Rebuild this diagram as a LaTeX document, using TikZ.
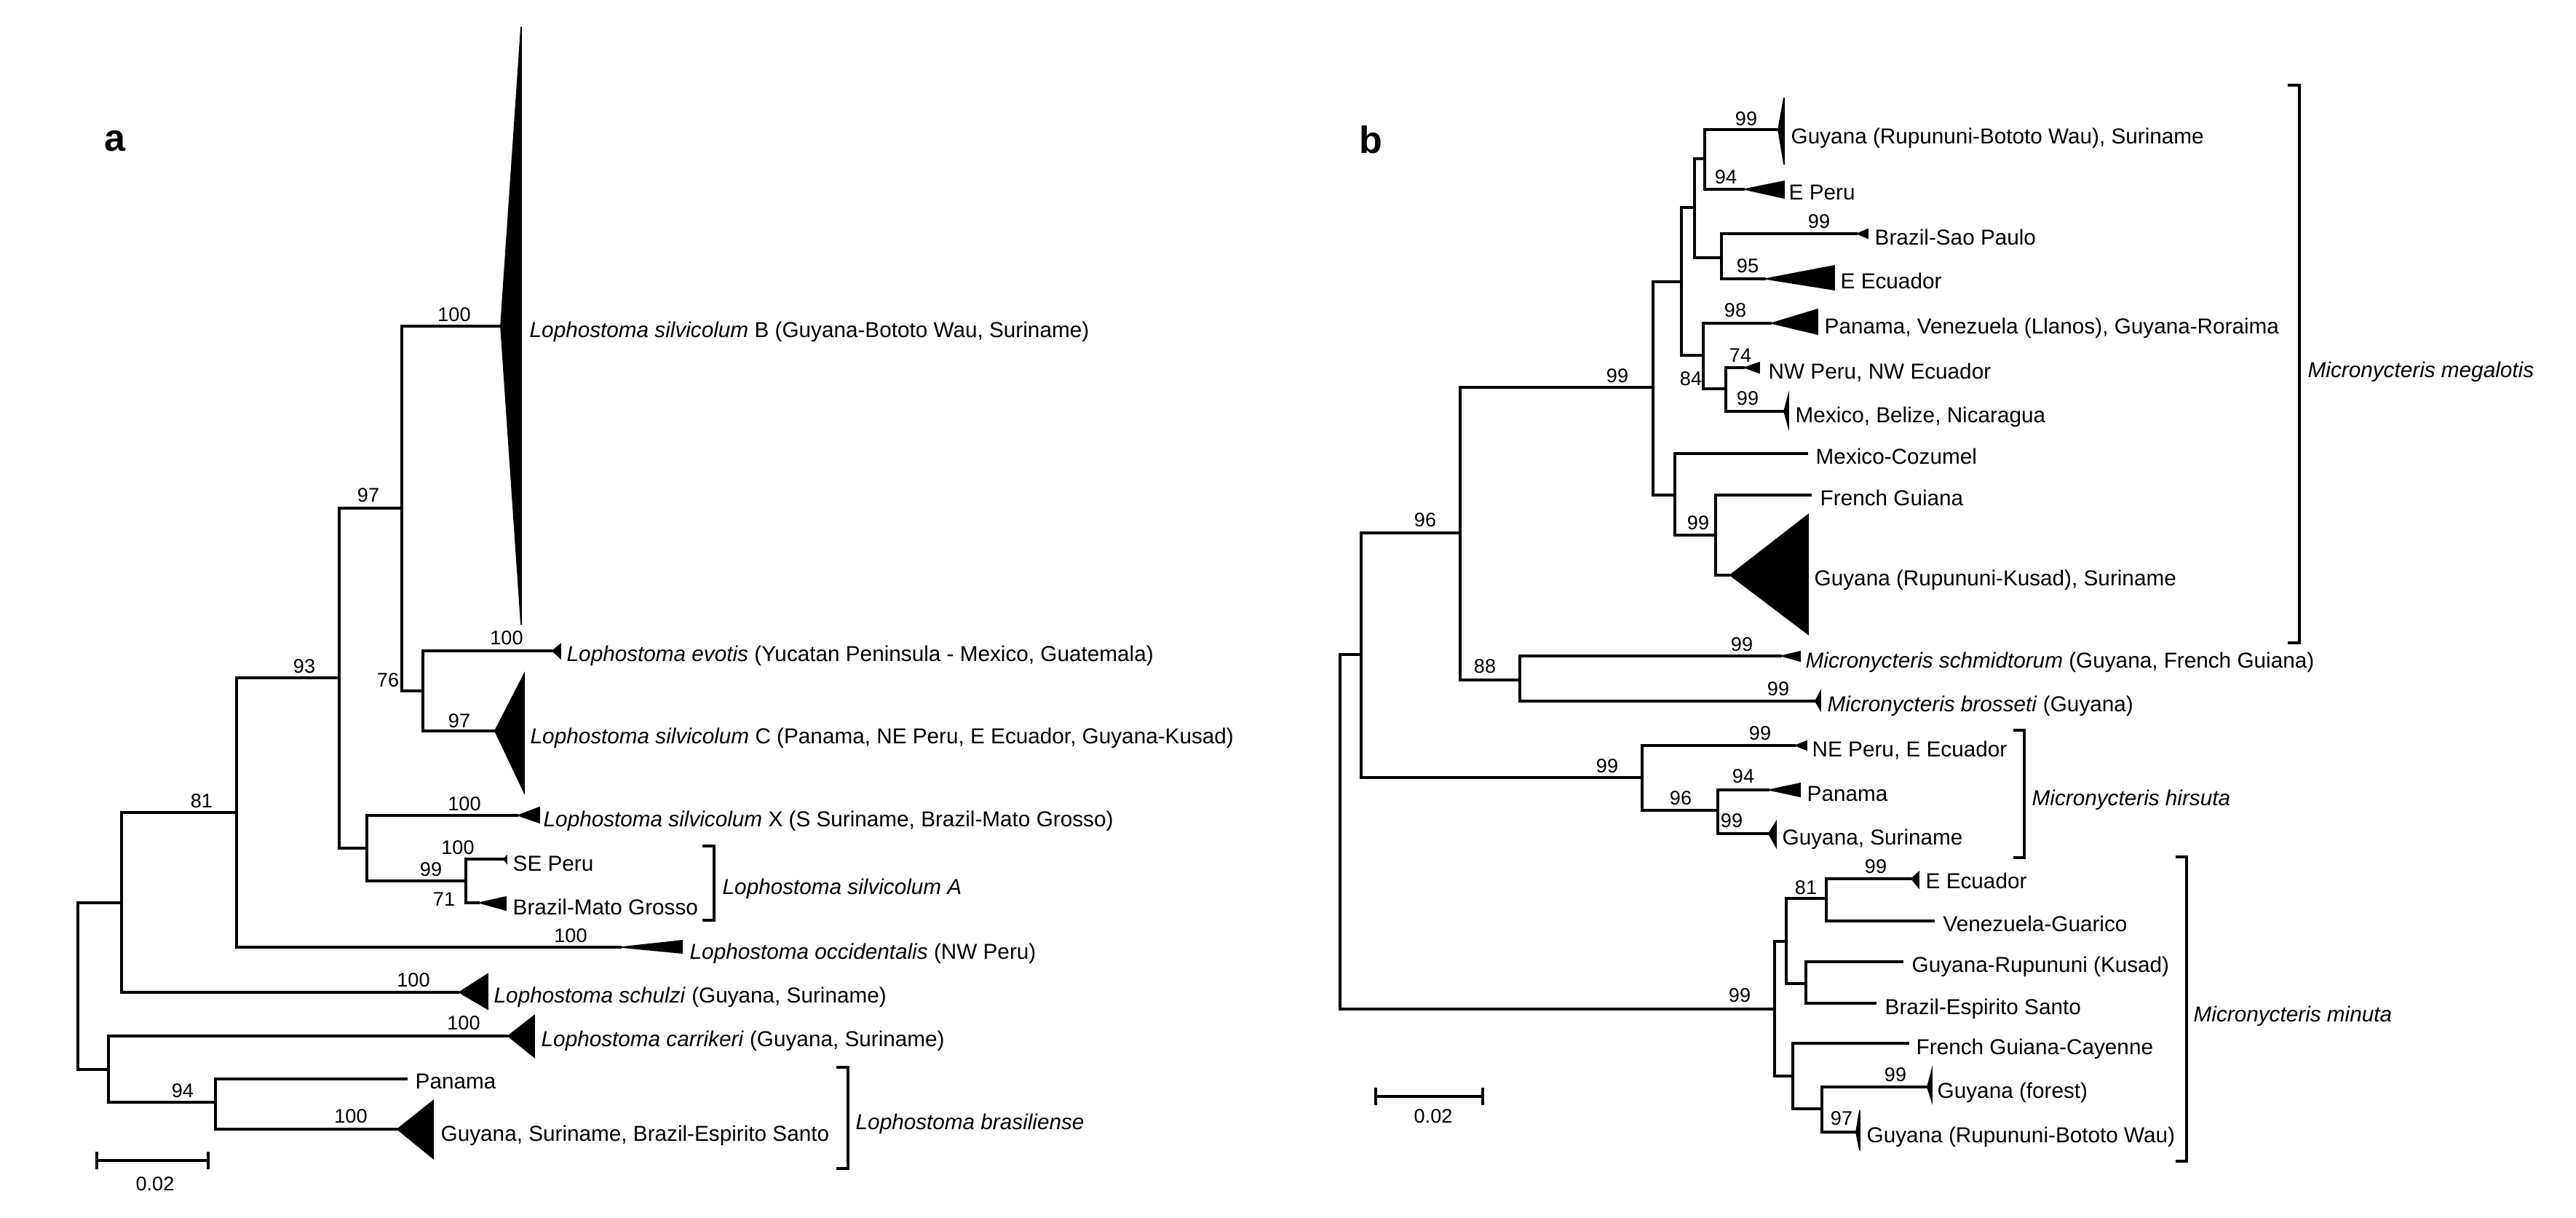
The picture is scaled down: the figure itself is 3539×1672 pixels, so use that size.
\documentclass[tikz,border=0pt]{standalone}
\usepackage{fontspec}
\setmainfont{Liberation Sans}
\begin{document}
\begin{tikzpicture}[x=0.01cm,y=-0.01cm,
    branch/.style={line width=1.1pt},
    clade/.style={fill=black,draw=black,line width=0.5pt,line join=miter},
    taxon/.style={anchor=base west,inner sep=0pt,font=\fontsize{8.45}{10}\selectfont},
    group/.style={taxon,font=\fontsize{8.45}{10}\selectfont\itshape},
    boot/.style={inner sep=0pt,font=\fontsize{7.7}{9}\selectfont},
    panel/.style={inner sep=0pt,font=\fontsize{14.8}{17}\selectfont\bfseries}]
    \useasboundingbox (0,0) rectangle (3539,1672);
    \node[panel] (la) at (158,194) {a};
    \coordinate (ra) at (107,1355);
    \coordinate (a81) at (167,1240);
    \coordinate (a93) at (325,1116);
    \coordinate (a97) at (466,931);
    \coordinate (a100) at (552,698);
    \coordinate (a76) at (581,949);
    \coordinate (ax) at (504,1165);
    \coordinate (a99) at (640,1210);
    \coordinate (ab) at (149,1469);
    \coordinate (a94) at (296,1514);
    \coordinate (tB) at (688,448);
    \coordinate (tEv) at (759,894);
    \coordinate (tC) at (680,1004);
    \coordinate (tX) at (712,1120);
    \coordinate (tSE) at (692,1180);
    \coordinate (tMG) at (659,1240);
    \coordinate (tOc) at (854,1301);
    \coordinate (tSc) at (631,1363);
    \coordinate (tCa) at (698,1423);
    \coordinate (tPa) at (560,1482);
    \coordinate (tGS) at (546,1551);
    \draw[branch] (ra) |- (a81) (ra) |- (ab)
        (a81) |- (a93) (a81) |- (tSc)
        (a93) |- (a97) (a93) |- (tOc)
        (a97) |- (a100) (a97) |- (ax)
        (a100) |- (tB) (a100) |- (a76)
        (a76) |- (tEv) (a76) |- (tC)
        (ax) |- (tX) (ax) |- (a99)
        (a99) |- (tSE) (a99) |- (tMG)
        (ab) |- (tCa) (ab) |- (a94)
        (a94) |- (tPa) (a94) |- (tGS);
    \fill[clade] (tB) -- (716,37) -- (716,858) -- cycle;
    \fill[clade] (tEv) -- (770,885) -- (770,904) -- cycle;
    \fill[clade] (tC) -- (720,926) -- (720,1088) -- cycle;
    \fill[clade] (tX) -- (741,1109) -- (741,1130) -- cycle;
    \fill[clade] (tSE) -- (696,1176) -- (696,1185) -- cycle;
    \fill[clade] (tMG) -- (695,1232) -- (695,1250) -- cycle;
    \fill[clade] (tOc) -- (937,1292) -- (937,1309) -- cycle;
    \fill[clade] (tSc) -- (670,1338) -- (670,1386) -- cycle;
    \fill[clade] (tCa) -- (734,1395) -- (734,1452) -- cycle;
    \fill[clade] (tGS) -- (595,1512) -- (595,1591) -- cycle;
    \node[taxon] (nB) at (727,463) {\textit{Lophostoma silvicolum} B (Guyana-Bototo Wau, Suriname)};
    \node[taxon] (nEv) at (778,908) {\textit{Lophostoma evotis} (Yucatan Peninsula - Mexico, Guatemala)};
    \node[taxon] (nC) at (728,1021) {\textit{Lophostoma silvicolum} C (Panama, NE Peru, E Ecuador, Guyana-Kusad)};
    \node[taxon] (nX) at (746,1135) {\textit{Lophostoma silvicolum} X (S Suriname, Brazil-Mato Grosso)};
    \node[taxon] (nSE) at (704,1196) {SE Peru};
    \node[taxon] (nMG) at (704,1256) {Brazil-Mato Grosso};
    \node[taxon] (nOc) at (947,1317) {\textit{Lophostoma occidentalis} (NW Peru)};
    \node[taxon] (nSc) at (678,1377) {\textit{Lophostoma schulzi} (Guyana, Suriname)};
    \node[taxon] (nCa) at (743,1437) {\textit{Lophostoma carrikeri} (Guyana, Suriname)};
    \node[taxon] (nPa) at (570,1495) {Panama};
    \node[taxon] (nGS) at (605,1567) {Guyana, Suriname, Brazil-Espirito Santo};
    \node[group] (gA) at (992,1228) {Lophostoma silvicolum A};
    \node[group] (gBr) at (1175,1551) {Lophostoma brasiliense};
    \draw[branch] (965,1162) -| (981,1264) -- (965,1264);
    \draw[branch] (1149,1466) -| (1165,1605) -- (1149,1605);
    \node[boot] (s1) at (624,432) {100};
    \node[boot] (s2) at (506,680) {97};
    \node[boot] (s3) at (533,934) {76};
    \node[boot] (s4) at (696,876) {100};
    \node[boot] (s5) at (631,990) {97};
    \node[boot] (s6) at (418,915) {93};
    \node[boot] (s7) at (638,1104) {100};
    \node[boot] (s8) at (592,1194) {99};
    \node[boot] (s9) at (629,1164) {100};
    \node[boot] (s10) at (610,1235) {71};
    \node[boot] (s11) at (784,1285) {100};
    \node[boot] (s12) at (277,1100) {81};
    \node[boot] (s13) at (568,1346) {100};
    \node[boot] (s14) at (637,1405) {100};
    \node[boot] (s15) at (251,1498) {94};
    \node[boot] (s16) at (482,1533) {100};
    \draw[branch] (133,1582) -- (133,1606) (133,1594) -- (286,1594) (286,1582) -- (286,1606);
    \node[boot] (sa) at (213,1626) {0.02};
    \node[panel] (lb) at (1883,192) {b};
    \coordinate (rb) at (1841,1100);
    \coordinate (b96) at (1870,899);
    \coordinate (bmeg) at (2006,732);
    \coordinate (b99) at (2271,532);
    \coordinate (btop) at (2310,387);
    \coordinate (bgu) at (2328,285);
    \coordinate (b99g) at (2342,218);
    \coordinate (b95) at (2365,354);
    \coordinate (bpv) at (2340,488);
    \coordinate (b84) at (2371,534);
    \coordinate (bco) at (2301,680);
    \coordinate (b99f) at (2357,735);
    \coordinate (b88) at (2088,934);
    \coordinate (bhi) at (2256,1068);
    \coordinate (b96h) at (2360,1113);
    \coordinate (bmi) at (2438,1386);
    \coordinate (bm1) at (2454,1293);
    \coordinate (b81) at (2509,1234);
    \coordinate (bm2) at (2481,1351);
    \coordinate (bm3) at (2463,1478);
    \coordinate (b97) at (2503,1523);
    \coordinate (uGB) at (2443,178);
    \coordinate (uEP) at (2397,260);
    \coordinate (uSP) at (2552,321);
    \coordinate (uEE) at (2426,383);
    \coordinate (uPV) at (2434,444);
    \coordinate (uNW) at (2397,505);
    \coordinate (uMB) at (2451,565);
    \coordinate (uCo) at (2484,623);
    \coordinate (uFG) at (2489,680);
    \coordinate (uKu) at (2377,790);
    \coordinate (uSc) at (2448,901);
    \coordinate (uBr) at (2494,963);
    \coordinate (uNE) at (2467,1024);
    \coordinate (uPa) at (2431,1085);
    \coordinate (uGS) at (2430,1145);
    \coordinate (uEc) at (2626,1207);
    \coordinate (uVe) at (2658,1265);
    \coordinate (uGR) at (2615,1321);
    \coordinate (uBE) at (2578,1378);
    \coordinate (uFC) at (2623,1433);
    \coordinate (uGf) at (2648,1493);
    \coordinate (uGW) at (2550,1555);
    \draw[branch] (rb) |- (b96) (rb) |- (bmi)
        (b96) |- (bmeg) (b96) |- (bhi)
        (bmeg) |- (b99) (bmeg) |- (b88)
        (b99) |- (btop) (b99) |- (bco)
        (btop) |- (bgu) (btop) |- (bpv)
        (bgu) |- (b99g) (bgu) |- (b95)
        (b99g) |- (uGB) (b99g) |- (uEP)
        (b95) |- (uSP) (b95) |- (uEE)
        (bpv) |- (uPV) (bpv) |- (b84)
        (b84) |- (uNW) (b84) |- (uMB)
        (bco) |- (uCo) (bco) |- (b99f)
        (b99f) |- (uFG) (b99f) |- (uKu)
        (b88) |- (uSc) (b88) |- (uBr)
        (bhi) |- (uNE) (bhi) |- (b96h)
        (b96h) |- (uPa) (b96h) |- (uGS)
        (bmi) |- (bm1) (bmi) |- (bm3)
        (bm1) |- (b81) (bm1) |- (bm2)
        (b81) |- (uEc) (b81) |- (uVe)
        (bm2) |- (uGR) (bm2) |- (uBE)
        (bm3) |- (uFC) (bm3) |- (b97)
        (b97) |- (uGf) (b97) |- (uGW);
    \fill[clade] (uGB) -- (2451,134) -- (2451,226) -- cycle;
    \fill[clade] (uEP) -- (2451,249) -- (2451,272) -- cycle;
    \fill[clade] (uSP) -- (2566,315) -- (2566,327) -- cycle;
    \fill[clade] (uEE) -- (2520,365) -- (2520,398) -- cycle;
    \fill[clade] (uPV) -- (2497,425) -- (2497,459) -- cycle;
    \fill[clade] (uNW) -- (2417,498) -- (2417,512) -- cycle;
    \fill[clade] (uMB) -- (2457,543) -- (2457,586) -- cycle;
    \fill[clade] (uKu) -- (2484,707) -- (2484,871) -- cycle;
    \fill[clade] (uSc) -- (2473,895) -- (2473,908) -- cycle;
    \fill[clade] (uBr) -- (2501,950) -- (2501,975) -- cycle;
    \fill[clade] (uNE) -- (2482,1018) -- (2482,1030) -- cycle;
    \fill[clade] (uPa) -- (2473,1076) -- (2473,1094) -- cycle;
    \fill[clade] (uGS) -- (2440,1129) -- (2440,1163) -- cycle;
    \fill[clade] (uEc) -- (2636,1198) -- (2636,1219) -- cycle;
    \fill[clade] (uGf) -- (2654,1470) -- (2654,1512) -- cycle;
    \fill[clade] (uGW) -- (2555,1525) -- (2555,1580) -- cycle;
    \node[taxon] (mGB) at (2460,197) {Guyana (Rupununi-Bototo Wau), Suriname};
    \node[taxon] (mEP) at (2457,274) {E Peru};
    \node[taxon] (mSP) at (2575,336) {Brazil-Sao Paulo};
    \node[taxon] (mEE) at (2528,396) {E Ecuador};
    \node[taxon] (mPV) at (2506,458) {Panama, Venezuela (Llanos), Guyana-Roraima};
    \node[taxon] (mNW) at (2429,520) {NW Peru, NW Ecuador};
    \node[taxon] (mMB) at (2466,580) {Mexico, Belize, Nicaragua};
    \node[taxon] (mCo) at (2494,637) {Mexico-Cozumel};
    \node[taxon] (mFG) at (2500,694) {French Guiana};
    \node[taxon] (mKu) at (2492,804) {Guyana (Rupununi-Kusad), Suriname};
    \node[taxon] (mSc) at (2480,917) {\textit{Micronycteris schmidtorum} (Guyana, French Guiana)};
    \node[taxon] (mBr) at (2510,977) {\textit{Micronycteris brosseti} (Guyana)};
    \node[taxon] (mNE) at (2489,1039) {NE Peru, E Ecuador};
    \node[taxon] (mPa) at (2482,1100) {Panama};
    \node[taxon] (mGS) at (2448,1160) {Guyana, Suriname};
    \node[taxon] (mEc) at (2645,1220) {E Ecuador};
    \node[taxon] (mVe) at (2669,1279) {Venezuela-Guarico};
    \node[taxon] (mGR) at (2626,1335) {Guyana-Rupununi (Kusad)};
    \node[taxon] (mBE) at (2589,1393) {Brazil-Espirito Santo};
    \node[taxon] (mFC) at (2632,1448) {French Guiana-Cayenne};
    \node[taxon] (mGf) at (2661,1508) {Guyana (forest)};
    \node[taxon] (mGW) at (2564,1569) {Guyana (Rupununi-Bototo Wau)};
    \node[group] (gMe) at (3170,518) {Micronycteris megalotis};
    \node[group] (gHi) at (2791,1106) {Micronycteris hirsuta};
    \node[group] (gMi) at (3013,1403) {Micronycteris minuta};
    \draw[branch] (3143,117) -| (3159,883) -- (3143,883);
    \draw[branch] (2766,1003) -| (2781,1178) -- (2766,1178);
    \draw[branch] (2989,1177) -| (3004,1595) -- (2989,1595);
    \node[boot] (q1) at (2399,163) {99};
    \node[boot] (q2) at (2371,243) {94};
    \node[boot] (q3) at (2499,304) {99};
    \node[boot] (q4) at (2401,365) {95};
    \node[boot] (q5) at (2384,426) {98};
    \node[boot] (q6) at (2323,520) {84};
    \node[boot] (q7) at (2391,488) {74};
    \node[boot] (q8) at (2401,547) {99};
    \node[boot] (q9) at (2222,516) {99};
    \node[boot] (q10) at (2333,718) {99};
    \node[boot] (q11) at (1958,714) {96};
    \node[boot] (q12) at (2040,915) {88};
    \node[boot] (q13) at (2393,885) {99};
    \node[boot] (q14) at (2443,946) {99};
    \node[boot] (q15) at (2208,1052) {99};
    \node[boot] (q16) at (2418,1007) {99};
    \node[boot] (q17) at (2395,1066) {94};
    \node[boot] (q18) at (2309,1096) {96};
    \node[boot] (q19) at (2379,1127) {99};
    \node[boot] (q20) at (2390,1367) {99};
    \node[boot] (q21) at (2481,1219) {81};
    \node[boot] (q22) at (2577,1190) {99};
    \node[boot] (q23) at (2604,1476) {99};
    \node[boot] (q24) at (2530,1536) {97};
    \draw[branch] (1890,1494) -- (1890,1518) (1890,1506) -- (2037,1506) (2037,1494) -- (2037,1518);
    \node[boot] (sb) at (1969,1533) {0.02};
\end{tikzpicture}
\end{document}
